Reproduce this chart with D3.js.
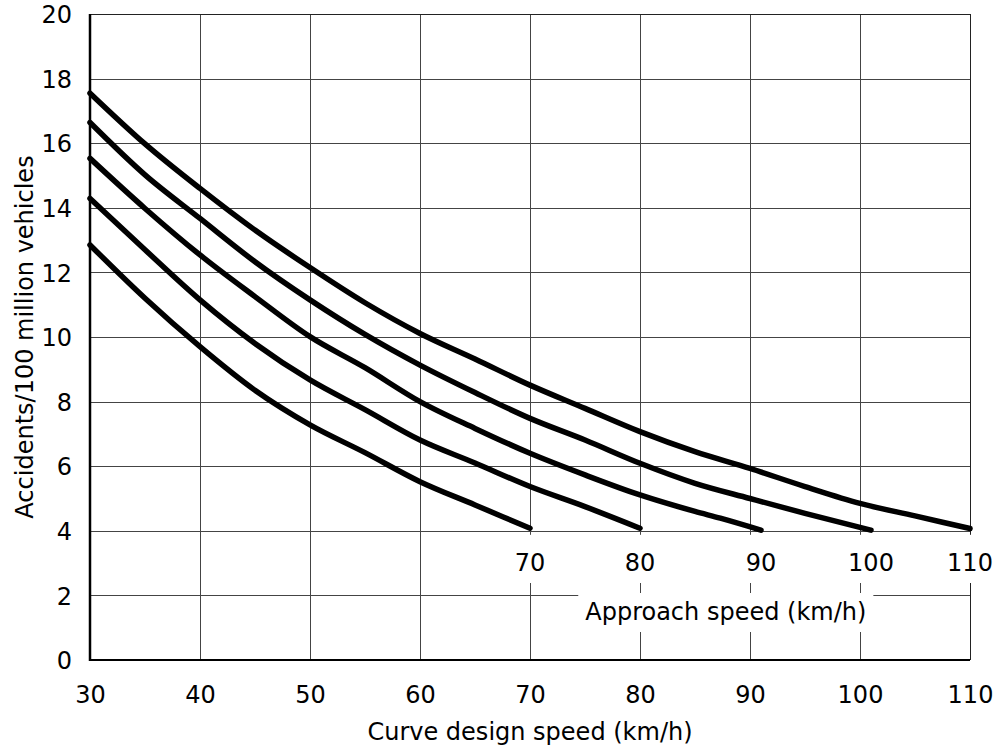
<!DOCTYPE html>
<html>
<head>
<meta charset="utf-8">
<script src="https://cdn.jsdelivr.net/npm/d3@7"></script>
<style>
  html, body { margin: 0; padding: 0; background: #fff; }
  svg { display: block; }
  text { font-family: "DejaVu Sans", Verdana, sans-serif; fill: #000; }
</style>
</head>
<body>
<svg id="chart" width="997" height="754"></svg>
<script>
// ---- Data ----
const approachSpeeds = [70, 80, 90, 100, 110];
const xTicks = [30, 40, 50, 60, 70, 80, 90, 100, 110];
const yTicks = [0, 2, 4, 6, 8, 10, 12, 14, 16, 18, 20];

// curve design speed (km/h) -> accidents / 100 million vehicles
const curve70 = [[30,12.85],[35,11.2],[40,9.7],[45,8.35],[50,7.28],[55,6.42],[60,5.52],[65,4.8],[70,4.08]];
const curve80 = [[30,14.29],[35,12.7],[40,11.15],[45,9.8],[50,8.67],[55,7.75],[60,6.81],[65,6.1],[70,5.37],[75,4.75],[80,4.08]];
const curve90 = [[30,15.53],[35,13.98],[40,12.54],[45,11.25],[50,10.01],[55,9.05],[60,8.0],[65,7.17],[70,6.4],[75,5.73],[80,5.11],[85,4.6],[87.3,4.39],[91,4.02]];
const curve100 = [[30,16.64],[35,15.02],[40,13.67],[45,12.33],[50,11.15],[55,10.08],[60,9.13],[65,8.28],[70,7.48],[75,6.81],[80,6.09],[85,5.47],[90,5.0],[95,4.54],[101,4.02]];
const curve110 = [[30,17.55],[35,15.98],[40,14.6],[45,13.31],[50,12.15],[55,11.06],[60,10.11],[65,9.32],[70,8.51],[75,7.79],[80,7.07],[85,6.45],[90,5.93],[95,5.37],[100,4.85],[105,4.46],[110,4.07]];
const curves = [curve70, curve80, curve90, curve100, curve110];

// ---- Layout ----
const svg = d3.select("#chart");
const x = d3.scaleLinear().domain([30, 110]).range([90, 970]);
const y = d3.scaleLinear().domain([0, 20]).range([660, 14]);
const FS = 24;

// grid lines
const grid = svg.append("g");
grid.selectAll("line.v").data(xTicks.slice(1, -1)).join("line")
  .attr("x1", d => Math.round(x(d)) + 0.5).attr("x2", d => Math.round(x(d)) + 0.5)
  .attr("y1", y(20)).attr("y2", y(0))
  .attr("stroke", "#444").attr("stroke-width", 1);
grid.selectAll("line.h").data(yTicks.slice(1, -1)).join("line")
  .attr("y1", d => Math.round(y(d)) + 0.5).attr("y2", d => Math.round(y(d)) + 0.5)
  .attr("x1", x(30)).attr("x2", x(110))
  .attr("stroke", "#444").attr("stroke-width", 1);

// frame: top and right thin, left and bottom heavier
svg.append("line").attr("x1", x(30)).attr("x2", x(110)).attr("y1", Math.round(y(20)) + 0.5).attr("y2", Math.round(y(20)) + 0.5)
  .attr("stroke", "#222").attr("stroke-width", 1);
svg.append("line").attr("x1", Math.round(x(110)) + 0.5).attr("x2", Math.round(x(110)) + 0.5).attr("y1", y(20)).attr("y2", y(0))
  .attr("stroke", "#222").attr("stroke-width", 1);
svg.append("line").attr("x1", x(30)).attr("x2", x(30)).attr("y1", y(20)).attr("y2", y(0) + 1)
  .attr("stroke", "#000").attr("stroke-width", 2.5);
svg.append("line").attr("x1", x(30) - 1).attr("x2", x(110)).attr("y1", y(0)).attr("y2", y(0))
  .attr("stroke", "#000").attr("stroke-width", 2);

// axis tick labels
const yAxis = d3.axisLeft(y).tickValues(yTicks).tickSize(0).tickPadding(18);
const gy = svg.append("g").attr("transform", `translate(${x(30)},0)`).call(yAxis);
gy.select(".domain").remove();
gy.selectAll("text").attr("font-size", FS).attr("font-family", "DejaVu Sans, Verdana, sans-serif").attr("fill", "#000").attr("dy", "0.36em");

const xAxis = d3.axisBottom(x).tickValues(xTicks).tickSize(0).tickPadding(26);
const gx = svg.append("g").attr("transform", `translate(0,${y(0)})`).call(xAxis);
gx.select(".domain").remove();
gx.selectAll("text").attr("font-size", FS).attr("font-family", "DejaVu Sans, Verdana, sans-serif").attr("fill", "#000").attr("dy", "0.71em");

// axis titles
svg.append("text").attr("x", (x(30) + x(110)) / 2).attr("y", 740)
  .attr("text-anchor", "middle").attr("font-size", FS).text("Curve design speed (km/h)");
svg.append("text").attr("transform", `translate(33,${(y(0) + y(20)) / 2}) rotate(-90)`)
  .attr("text-anchor", "middle").attr("font-size", FS).text("Accidents/100 million vehicles");

// white boxes for approach-speed labels (they mask grid lines)
const labelG = svg.append("g");
const ends = curves.map(c => c[c.length - 1][0]);
labelG.selectAll("rect.lab").data(ends).join("rect")
  .attr("x", (d, i) => x(d) - (approachSpeeds[i] >= 100 ? 26 : 20))
  .attr("width", (d, i) => approachSpeeds[i] >= 100 ? 52 : 40)
  .attr("y", y(4) + 4).attr("height", 583 - (y(4) + 4))
  .attr("fill", "#fff");

// approach speed box
const apX = x(87.8);
const apText = labelG.append("text").attr("x", apX).attr("y", 620)
  .attr("text-anchor", "middle").attr("font-size", FS).text("Approach speed (km/h)");
const bb = apText.node().getBBox();
labelG.insert("rect", "text").attr("x", bb.x - 7).attr("width", bb.width + 14)
  .attr("y", 593).attr("height", 632 - 593).attr("fill", "#fff");

// curves
const line = d3.line().x(d => x(d[0])).y(d => y(d[1])).curve(d3.curveMonotoneX);
svg.append("g").selectAll("path").data(curves).join("path")
  .attr("d", line).attr("fill", "none").attr("stroke", "#000")
  .attr("stroke-width", 5.5).attr("stroke-linejoin", "round").attr("stroke-linecap", "round");

// approach speed labels
svg.append("g").selectAll("text").data(approachSpeeds).join("text")
  .attr("x", (d, i) => x(ends[i])).attr("y", y(4) + 40)
  .attr("text-anchor", "middle").attr("font-size", FS).text(d => d);
</script>
</body>
</html>
